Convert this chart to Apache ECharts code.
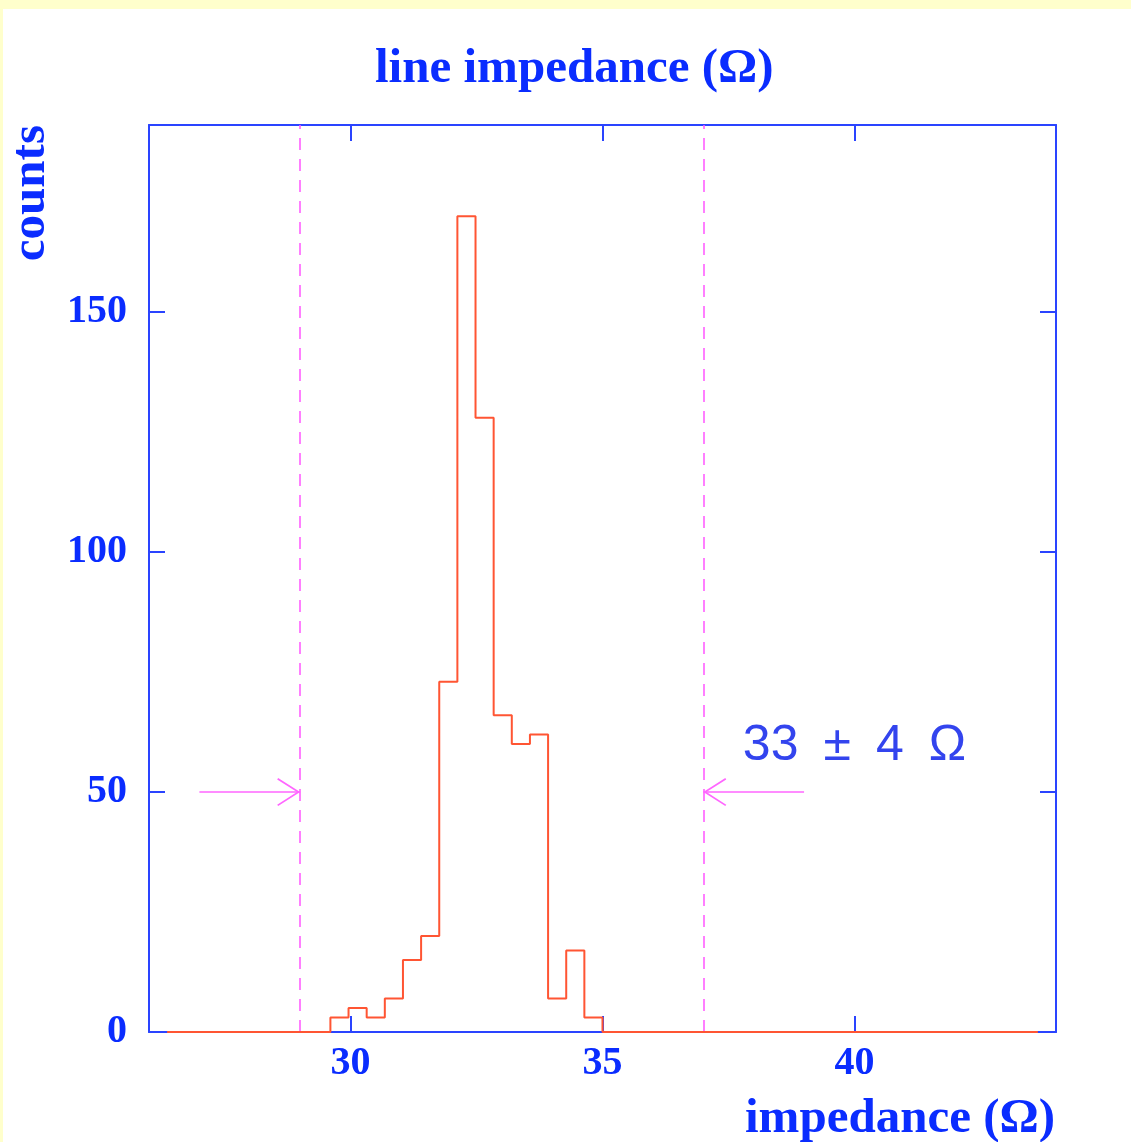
<!DOCTYPE html>
<html>
<head>
<meta charset="utf-8">
<script src="https://cdn.jsdelivr.net/npm/echarts@6/dist/echarts.min.js"></script>
<style>
html, body { margin: 0; padding: 0; background: #ffffcc; overflow: hidden; }
#paper { position: absolute; left: 3px; top: 9px; width: 1128px; height: 1133px; background: #ffffff; }
#main { position: absolute; left: 0; top: 0; width: 1131px; height: 1142px; }
</style>
</head>
<body>
<div id="paper"></div>
<div id="main"></div>
<script>
// histogram of line impedance, bins of 0.36 ohm
var binStart = 26.36;
var binWidth = 0.36;
var counts = [
  0, 0, 0, 0, 0, 0, 0, 0, 0,
  3, 5, 3, 7, 15, 20, 73, 170, 128, 66, 60, 62, 7, 17, 3,
  0, 0, 0, 0, 0, 0, 0, 0, 0, 0, 0, 0, 0, 0, 0, 0, 0, 0, 0, 0, 0, 0, 0, 0
];
var xTicks = [30, 35, 40];
var yTicks = [0, 50, 100, 150];
var limits = [29, 37];
var leftArrow = [[27, 50], [29, 50]];
var rightArrow = [[39, 50], [37, 50]];
var noteText = "33\u2002\u00b1\u20024\u2002\u03a9";
var notePos = [40, 59.5];

var blue = "#0a2cff";
var frame = "#2a44ff";
var serif = "Liberation Serif";

var stepData = [];
for (var i = 0; i < counts.length; i++) {
  stepData.push([+(binStart + i * binWidth).toFixed(2), counts[i]]);
}
stepData.push([+(binStart + counts.length * binWidth).toFixed(2), 0]);

// open arrow head, tip in the middle of the box so it sits on the line end
var chevron = "path://M14,0 L14.01,0 Z M14,23 L28,45 L26.6,46 L14,26.2 L1.4,46 L0,45 Z";

function frameAxis(pos, isX, ticks, showLabel) {
  var ax = {
    type: "value",
    position: pos,
    min: isX ? 26 : 0,
    max: isX ? 44 : 189,
    axisLine: { show: true, onZero: false, lineStyle: { color: frame, width: 2 } },
    axisTick: { show: true, inside: true, length: 16, customValues: ticks, lineStyle: { color: frame, width: 2 } },
    axisLabel: {
      show: showLabel,
      customValues: ticks,
      color: blue,
      fontFamily: serif,
      fontWeight: "bold",
      fontSize: 40,
      margin: isX ? 12 : 22
    },
    splitLine: { show: false }
  };
  return ax;
}

var chart = echarts.init(document.getElementById("main"));
chart.setOption({
  animation: false,
  backgroundColor: "transparent",
  title: {
    text: "line impedance (\u03a9)",
    left: 370,
    top: 40,
    textStyle: { color: blue, fontFamily: serif, fontWeight: "bold", fontSize: 49 }
  },
  grid: { left: 149, top: 125, right: 75, bottom: 110, containLabel: false },
  xAxis: [frameAxis("bottom", true, xTicks, true), frameAxis("top", true, xTicks, false)],
  yAxis: [frameAxis("left", false, yTicks, true), frameAxis("right", false, yTicks, false)],
  graphic: [
    {
      type: "text",
      x: 31,
      y: 125,
      rotation: Math.PI / 2,
      style: {
        text: "counts",
        fill: blue,
        font: "bold 49px 'Liberation Serif'",
        textAlign: "right",
        textVerticalAlign: "middle"
      }
    },
    {
      type: "text",
      x: 1055,
      y: 1119,
      style: {
        text: "impedance (\u03a9)",
        fill: blue,
        font: "bold 49px 'Liberation Serif'",
        textAlign: "right",
        textVerticalAlign: "middle"
      }
    }
  ],
  series: [
    {
      type: "line",
      step: "end",
      data: stepData,
      showSymbol: false,
      lineStyle: { color: "#ff5533", width: 2 },
      z: 5,
      silent: true,
      markLine: {
        silent: true,
        symbol: ["none", "none"],
        symbolSize: [28, 46],
        label: { show: false },
        lineStyle: { color: "#ff66ff", width: 1.5, type: "solid" },
        data: [
          { xAxis: limits[0], lineStyle: { type: [12, 9], color: "#ff55ff", width: 1.5 } },
          { xAxis: limits[1], lineStyle: { type: [12, 9], color: "#ff55ff", width: 1.5 } },
          [{ coord: leftArrow[0], symbol: "none" }, { coord: leftArrow[1], symbol: chevron }],
          [{ coord: rightArrow[0], symbol: "none" }, { coord: rightArrow[1], symbol: chevron }]
        ]
      },
      markPoint: {
        silent: true,
        symbolSize: 0,
        data: [
          {
            coord: notePos,
            label: {
              show: true,
              position: "inside",
              formatter: noteText,
              color: "#3344ee",
              fontFamily: "Liberation Sans",
              fontSize: 50
            }
          }
        ]
      }
    }
  ]
});
</script>
</body>
</html>
